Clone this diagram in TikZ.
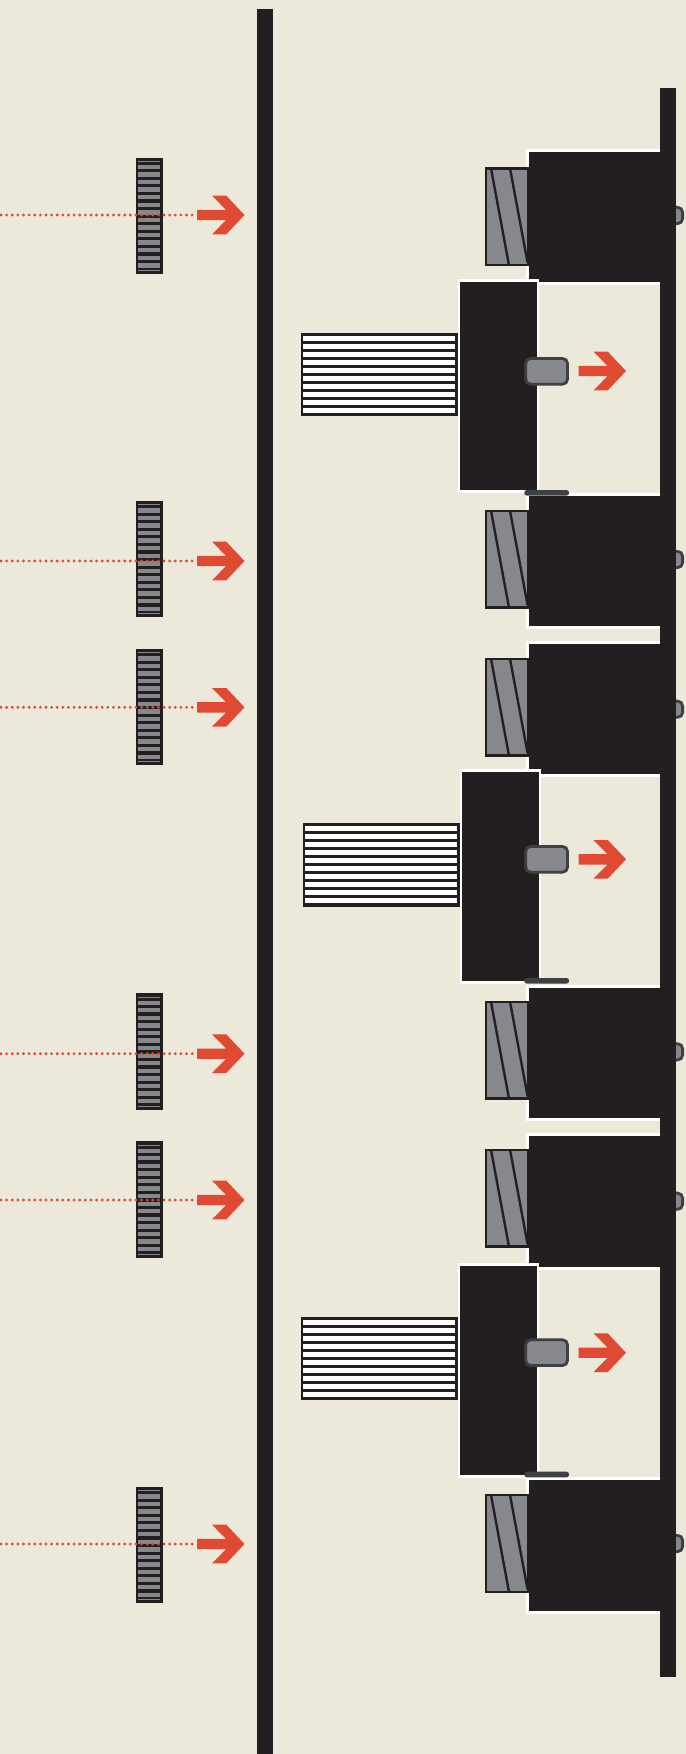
\documentclass[tikz,border=0pt]{standalone}
\definecolor{paper}{HTML}{ECE9DA}
\definecolor{ink}{HTML}{231F20}
\definecolor{signal}{HTML}{E04A32}
\definecolor{steel}{HTML}{87888B}
\definecolor{knob}{HTML}{3F4042}
\begin{document}
\begin{tikzpicture}[x=0.02cm,y=-0.02cm,
  coilline/.style={ink,line width=1.35pt},
  knobbox/.style={draw=knob,fill=steel,line width=1.6pt,rounded corners=2.8pt},
  beamline/.style={signal,line width=1.8pt,line cap=round,dash pattern=on 0pt off 3.2pt}]

% стрелка: левый край и середина по высоте
\def\signalarrow#1#2{%
  \fill[signal] (#1,#2-5.2) -- (#1+29,#2-5.2) -- (#1+15,#2-19.3) -- (#1+29.3,#2-19.3)
    -- (#1+47.5,#2) -- (#1+29.3,#2+19.3) -- (#1+15,#2+19.3) -- (#1+29,#2+5.2) -- (#1,#2+5.2) -- cycle;
}

\fill[paper] (0,0) rectangle (686,1754);
\useasboundingbox (0,0) rectangle (686,1754);

%=== Центральная стена ===
\fill[ink] (257,9) rectangle (273,1754);

%=== Левый ряд: узкие катушки и пунктир ===
\foreach \st/\ay in {157.5/215,501/561,649/707.3,993.3/1053.7,1141.3/1200,1487/1544}{
  \fill[ink] (135.5,\st) rectangle (163,\st+116.3);
  \fill[steel] (138,\st+3.2) rectangle (160,\st+4.2);
  \fill[steel] (138,\st+112.4) rectangle (160,\st+113.4);
  \foreach \i in {0,...,13}{
    \fill[steel] (138,{\st+7.2+\i*7.57}) rectangle (160,{\st+11.6+\i*7.57});
  }
  \draw[beamline] (1,\ay) -- (194,\ay);
  \signalarrow{197}{\ay}
}

%=== Правый ряд: блоки ===
\foreach \bt/\bb/\ct/\nt in {152/282/167.3/206,496/626/509.7/550,644/774/657.7/699.7,988/1118.3/1000.7/1042.3,1136/1266.7/1148.7/1191.7,1480/1611/1494/1534}{
  \draw[knobbox] (665,\nt+1.4) rectangle (682.6,\nt+17.6);
  \fill[white] (526,\bt-2.8) rectangle (660,\bb+2.8);
  \fill[ink] (529,\bt) rectangle (660,\bb);
  % катушка со скосами
  \fill[steel] (486,\ct+1) rectangle (528,\ct+98);
  \draw[coilline] (491,\ct+1) -- (509,\ct+98);
  \draw[coilline] (510,\ct+1) -- (527.5,\ct+95);
  \draw[coilline] (486.2,\ct+1.1) rectangle (528,\ct+97.9);
}

% Правая стена
\fill[ink] (660,88) rectangle (676,1677);

%=== Двери с белыми катушками ===
\foreach \dx/\dt/\db/\ct/\nt/\lt/\ay in {460.3/281.7/490/332.7/357/490/371,462.3/772/981/823.3/845/978/859.3,460.3/1265.7/1475/1317/1338.3/1471.7/1352.7}{
  \fill[white] (\dx-2.5,\dt-2.7) rectangle (\dx+79,\db+2.7);
  \fill[ink] (\dx,\dt) rectangle (\dx+76.7,\db);
  \fill[ink] (\dx-159.6,\ct) rectangle (\dx-2.6,\ct+83.3);
  \foreach \i in {0,...,9}{
    \fill[white] (\dx-157,{\ct+3.15+\i*8}) rectangle (\dx-5.2,{\ct+8.15+\i*8});
  }
  \draw[knobbox] (525.8,\nt+1.5) rectangle (567.5,\nt+27.2);
  \fill[knob,rounded corners=1.4pt] (524.3,\lt) rectangle (569,\lt+5.6);
  \signalarrow{578.5}{\ay}
}

\end{tikzpicture}
\end{document}
